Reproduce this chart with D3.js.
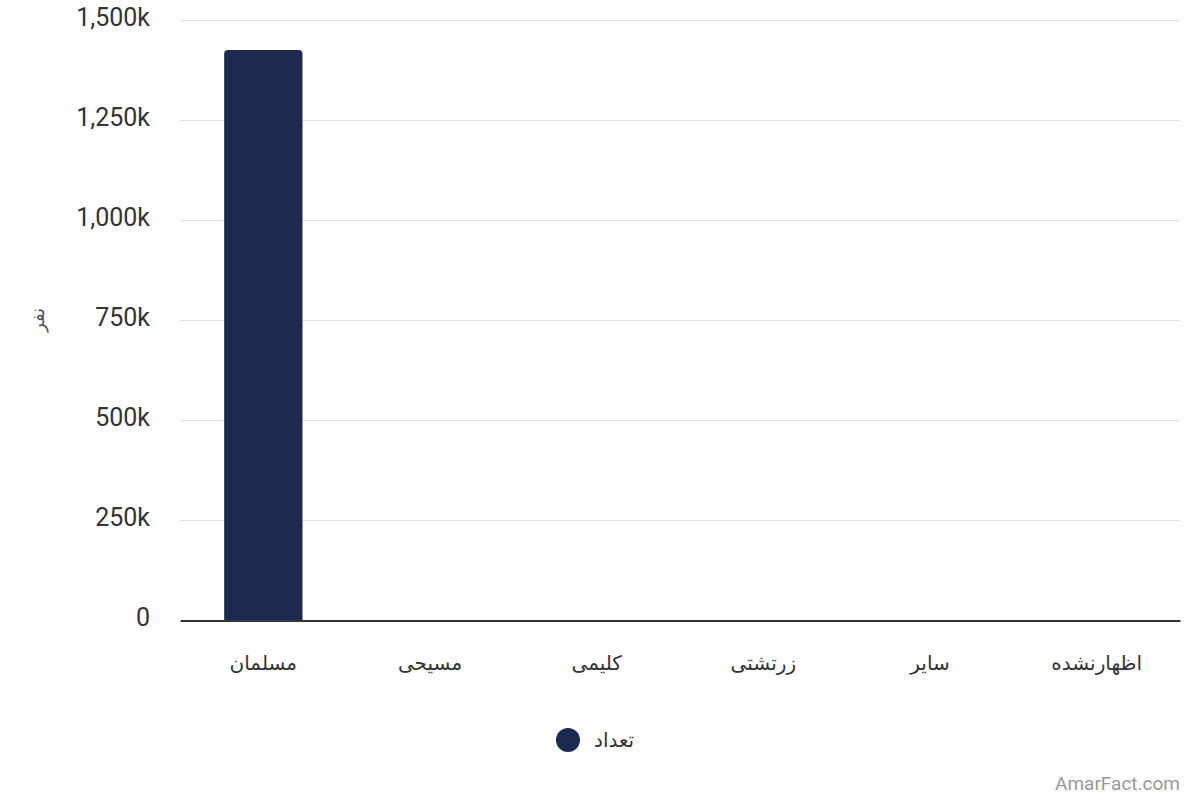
<!DOCTYPE html>
<html>
<head>
<meta charset="utf-8">
<script src="https://cdn.jsdelivr.net/npm/d3@7"></script>
<style>
  body { margin: 0; background: #fff; }
  text { font-family: Roboto, "DejaVu Sans", sans-serif; }
</style>
</head>
<body>
<div id="chart"></div>
<script>
// Data
var categories = ["مسلمان", "مسیحی", "کلیمی", "زرتشتی", "سایر", "اظهارنشده"];
var counts = [1426000, 300, 20, 100, 400, 800];
var yTicks = [0, 250000, 500000, 750000, 1000000, 1250000, 1500000];
var seriesName = "تعداد";
var yLabel = "نفر";

var svgWidth = 1200;
var svgHeight = 800;
var margin = { top: 20, right: 20, bottom: 180, left: 180 };
var width = svgWidth - margin.left - margin.right;
var height = svgHeight - margin.top - margin.bottom;
var barColor = "#1b2a4e";

var svg = d3.select("#chart")
  .append("svg")
  .attr("width", svgWidth)
  .attr("height", svgHeight);

var chartGroup = svg.append("g")
  .attr("transform", `translate(${margin.left}, ${margin.top + 0.5})`);

var data = categories.map((c, i) => ({ name: c, value: counts[i] }));

var x = d3.scaleBand()
  .domain(categories)
  .range([0, width])
  .paddingInner(0.53)
  .paddingOuter(0.265);

var y = d3.scaleLinear()
  .domain([0, 1500000])
  .range([height, 0]);

// Gridlines
chartGroup.selectAll(".grid")
  .data(yTicks.slice(1))
  .enter()
  .append("line")
  .attr("x1", 0)
  .attr("x2", width)
  .attr("y1", d => y(d))
  .attr("y2", d => y(d))
  .attr("stroke", "#e3e3e3")
  .attr("stroke-width", 1);

// Y axis labels
var leftAxis = d3.axisLeft(y)
  .tickValues(yTicks)
  .tickSize(0)
  .tickPadding(30)
  .tickFormat(d => d === 0 ? "0" : d3.format(",")(d / 1000) + "k");

var yAxisG = chartGroup.append("g").call(leftAxis);
yAxisG.select(".domain").remove();
yAxisG.selectAll("text")
  .attr("font-size", 25)
  .attr("dy", "0.2em")
  .attr("fill", "#333")
  .style("font-family", "Roboto, sans-serif");

// Bars with rounded tops
var r = 4;
chartGroup.selectAll(".bar")
  .data(data)
  .enter()
  .append("path")
  .attr("class", "bar")
  .attr("fill", barColor)
  .attr("d", function(d) {
    var x0 = x(d.name), w = x.bandwidth();
    var y0 = y(d.value), h = height - y0;
    var rr = Math.min(r, h);
    return `M${x0},${height} V${y0 + rr} Q${x0},${y0} ${x0 + rr},${y0} H${x0 + w - rr} Q${x0 + w},${y0} ${x0 + w},${y0 + rr} V${height} Z`;
  });

// X axis
var bottomAxis = d3.axisBottom(x).tickSize(0).tickPadding(35);
var xAxisG = chartGroup.append("g")
  .attr("transform", `translate(0, ${height})`)
  .call(bottomAxis);
xAxisG.select(".domain")
  .attr("stroke", "#333")
  .attr("stroke-width", 2);
xAxisG.selectAll("text")
  .attr("font-size", 20)
  .attr("fill", "#333")
  .style("font-family", "'DejaVu Sans', sans-serif");

// Y axis title
svg.append("text")
  .attr("transform", "translate(44, 320) rotate(-90)")
  .attr("text-anchor", "middle")
  .attr("font-size", 18)
  .attr("fill", "#555")
  .style("font-family", "'DejaVu Sans', sans-serif")
  .text(yLabel);

// Legend
var legend = svg.append("g").attr("transform", "translate(568, 740)");
legend.append("circle")
  .attr("r", 12)
  .attr("fill", barColor);
legend.append("text")
  .attr("x", 26)
  .attr("dy", "0.35em")
  .attr("font-size", 20)
  .attr("fill", "#333")
  .style("font-family", "'DejaVu Sans', sans-serif")
  .text(seriesName);

// Watermark
svg.append("text")
  .attr("x", 1180)
  .attr("y", 790)
  .attr("text-anchor", "end")
  .attr("font-size", 19)
  .attr("fill", "#999")
  .text("AmarFact.com");
</script>
</body>
</html>
